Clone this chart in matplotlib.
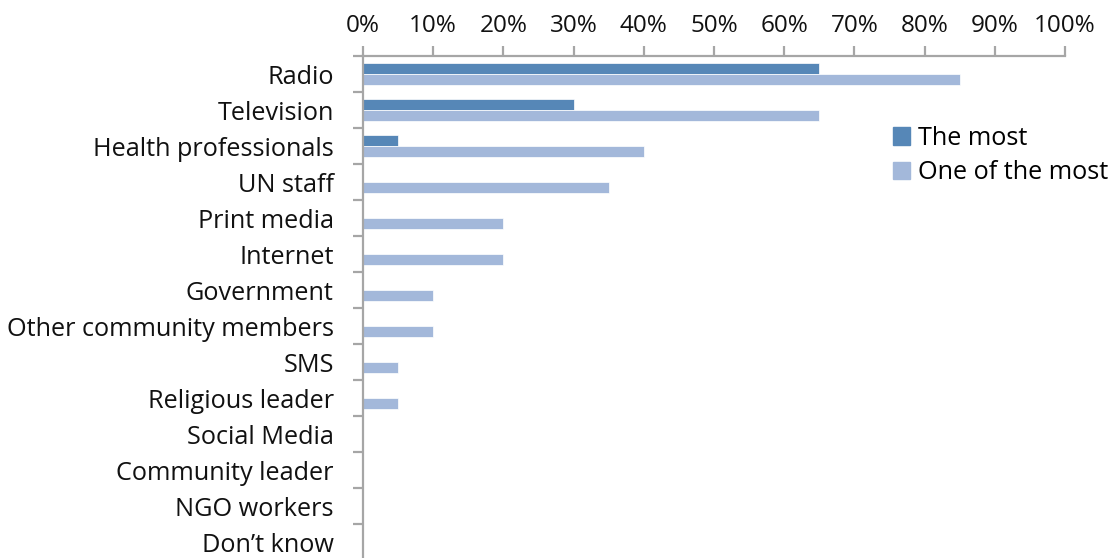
import matplotlib
matplotlib.use("Agg")
import matplotlib.pyplot as plt
import numpy as np
from matplotlib.patches import Patch

categories = ["Radio", "Television", "Health professionals", "UN staff", "Print media",
              "Internet", "Government", "Other community members", "SMS",
              "Religious leader", "Social Media", "Community leader", "NGO workers",
              "Don\u2019t know"]
the_most = [65, 30, 5, 0, 0, 0, 0, 0, 0, 0, 0, 0, 0, 0]
one_of_most = [85, 65, 40, 35, 20, 20, 10, 10, 5, 5, 0, 0, 0, 0]
x_ticks = list(range(0, 101, 10))

c_most = "#5687B7"
c_one = "#A3B8DA"
axis_grey = "#A6A6A6"

plt.rcParams["font.family"] = ["Open Sans", "DejaVu Sans"]

W, H = 1118, 558
fig = plt.figure(figsize=(W / 100, H / 100), dpi=100)
ax = fig.add_axes([363 / W, 1 - 560 / H, (1065 - 363) / W, (560 - 56) / H])

n = len(categories)
y = np.arange(n)
bh = 0.30
ax.barh(y - bh / 2, the_most, height=bh, color=c_most, edgecolor="white", linewidth=0.5)
ax.barh(y + bh / 2, one_of_most, height=bh, color=c_one, edgecolor="white", linewidth=0.5)

ax.set_xlim(0, 100)
ax.set_ylim(n - 0.5, -0.5)
ax.xaxis.tick_top()
ax.set_xticks(x_ticks)
ax.set_xticklabels([f"{v}%" for v in x_ticks])
ax.set_yticks(np.arange(n + 1) - 0.5, minor=False)
ax.set_yticklabels([])
ax.set_yticks(y, minor=True)
ax.set_yticklabels(categories, minor=True)

ax.tick_params(axis="x", which="major", length=7, width=1.6, color=axis_grey,
               labelsize=17.5, pad=6, labelcolor="#111111")
ax.tick_params(axis="y", which="major", length=7, width=1.6, color=axis_grey)
ax.tick_params(axis="y", which="minor", length=0, labelsize=18.2, pad=21,
               labelcolor="#111111")

for s in ["right", "bottom"]:
    ax.spines[s].set_visible(False)
for s in ["top", "left"]:
    ax.spines[s].set_color(axis_grey)
    ax.spines[s].set_linewidth(1.6)

handles = [Patch(color=c_most, label="The most"), Patch(color=c_one, label="One of the most")]
fig.legend(handles=handles, loc="upper left", bbox_to_anchor=(880 / W, 1 - 113 / H),
           frameon=False, fontsize=18.2, handlelength=0.7, handleheight=0.7,
           handletextpad=0.3, labelspacing=0.38, borderpad=0)

fig.savefig("out.png", dpi=100)
